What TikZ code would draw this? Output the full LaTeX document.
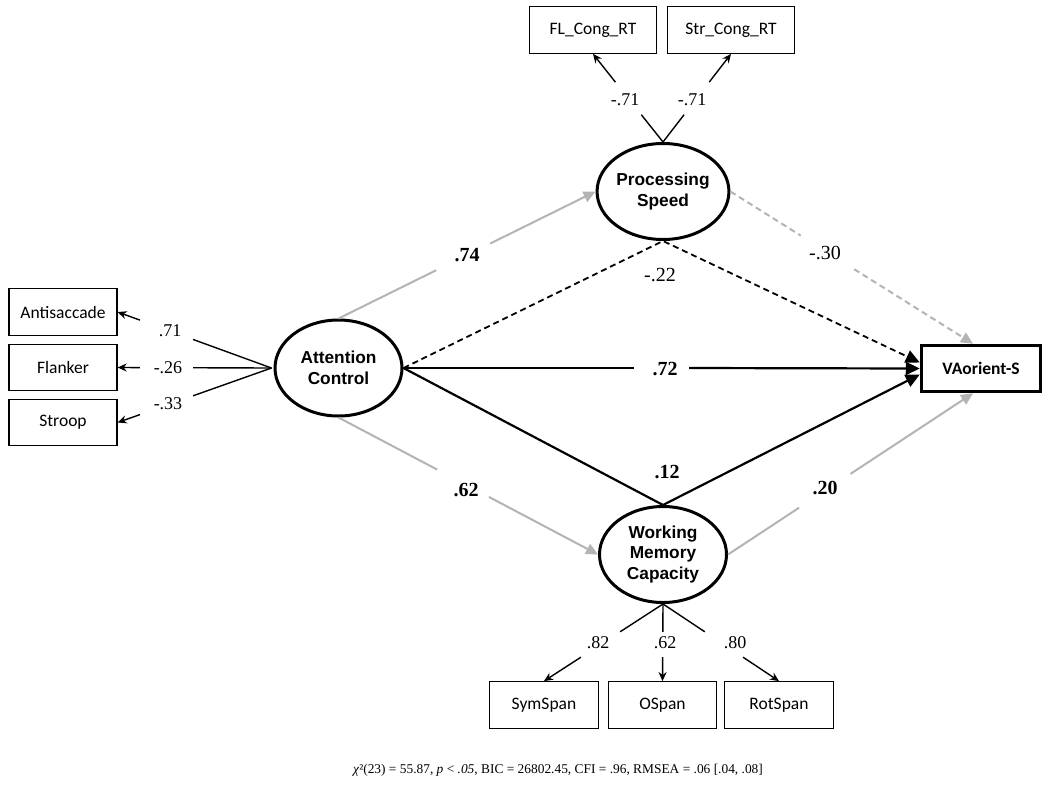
\documentclass[tikz,border=0pt]{standalone}
\usepackage{fontspec}
\setmainfont{Liberation Serif}
\newfontfamily\arialf{Liberation Sans}
\newfontfamily\calf{Carlito}
\usetikzlibrary{shapes.geometric,arrows.meta,calc}
\definecolor{arrgray}{RGB}{180,180,180}
\begin{document}
\begin{tikzpicture}[x=1pt,y=-1pt,
  lat/.style={ellipse, draw, line width=3pt, minimum width=127pt, minimum height=96pt, inner sep=0pt, align=center, font=\arialf\bfseries\fontsize{17.3}{20.5}\selectfont},
  obs/.style={draw, line width=1.3pt, inner sep=0pt, minimum height=46.5pt, font=\calf\fontsize{17.5}{20}\selectfont},
  dv/.style={draw, line width=3.5pt, inner sep=0pt, minimum width=119pt, minimum height=46pt, font=\calf\bfseries\fontsize{17.5}{20}\selectfont},
  ld/.style={line width=1.4pt, black},
  ldarr/.style={ld, -{Stealth[length=9pt,width=8pt]}},
  garr/.style={line width=2pt, arrgray, -{Triangle[length=12pt,width=11pt]}},
  gline/.style={line width=2pt, arrgray},
  barr/.style={line width=2.2pt, black, -{Triangle[length=14pt,width=13pt]}},
  bline/.style={line width=2.2pt, black},
  sl/.style={inner sep=0pt, font=\fontsize{18}{20}\selectfont},
  bl/.style={inner sep=0pt, font=\bfseries\fontsize{20}{22}\selectfont},
  rl/.style={inner sep=0pt, font=\fontsize{20}{22}\selectfont},
]
\useasboundingbox (0,0) rectangle (1050,804);
\fill[white] (0,0) rectangle (1050,804);

% latent variables
\node[lat] (AC) at (338.5,368) {Attention\\Control};
\node[lat] (PS) at (663,191.5) {Processing\\Speed};
\node[lat] (WM) at (663,554.5) {Working\\Memory\\Capacity};

% observed indicators
\node[obs, minimum width=108pt] (anti) at (63,312) {Antisaccade};
\node[obs, minimum width=108pt] (flank) at (63,367.5) {Flanker};
\node[obs, minimum width=108pt] (stroop) at (63,422.5) {Stroop};
\node[obs, minimum width=127pt] (fl) at (593,30) {FL\_Cong\_RT};
\node[obs, minimum width=127pt] (str) at (731,30) {Str\_Cong\_RT};
\node[obs, minimum width=109pt] (sym) at (544,705) {SymSpan};
\node[obs, minimum width=108pt] (ospan) at (662.5,705) {OSpan};
\node[obs, minimum width=109pt] (rot) at (779,705) {RotSpan};
\node[dv] (VA) at (981,368.5) {VAorient-S};

% attention control loadings
\coordinate (acw) at ([xshift=-2pt]AC.west);
\draw[ld] (acw) -- ($(acw)!0.51!(anti.east)$);
\draw[ldarr] ($(acw)!0.855!(anti.east)$) -- (anti.east);
\draw[ld] (acw) -- ($(acw)!0.51!(flank.east)$);
\draw[ldarr] ($(acw)!0.855!(flank.east)$) -- (flank.east);
\draw[ld] (acw) -- ($(acw)!0.51!(stroop.east)$);
\draw[ldarr] ($(acw)!0.855!(stroop.east)$) -- (stroop.east);
\node[sl] (l71) at (170,331) {.71};
\node[sl] (l26) at (168,368) {-.26};
\node[sl] (l33) at (168,404) {-.33};

% processing speed loadings
\draw[ld] (PS.north) -- ($(PS.north)!0.31!(fl.south)$);
\draw[ldarr] ($(PS.north)!0.68!(fl.south)$) -- (fl.south);
\draw[ld] (PS.north) -- ($(PS.north)!0.31!(str.south)$);
\draw[ldarr] ($(PS.north)!0.68!(str.south)$) -- (str.south);
\node[sl] (lfl) at (625,100) {-.71};
\node[sl] (lstr) at (692,100) {-.71};

% working memory loadings
\draw[ld] (WM.south) -- ($(WM.south)!0.36!(sym.north)$);
\draw[ldarr] ($(WM.south)!0.69!(sym.north)$) -- (sym.north);
\draw[ld] (WM.south) -- ($(WM.south)!0.36!(ospan.north)$);
\draw[ldarr] ($(WM.south)!0.69!(ospan.north)$) -- (ospan.north);
\draw[ld] (WM.south) -- ($(WM.south)!0.36!(rot.north)$);
\draw[ldarr] ($(WM.south)!0.69!(rot.north)$) -- (rot.north);
\node[sl] (l82) at (598,643) {.82};
\node[sl] (l62s) at (665,643) {.62};
\node[sl] (l80) at (735,643) {.80};

% gray structural paths
\draw[gline] (AC.north) -- ($(AC.north)!0.38!(PS.west)$);
\draw[garr] ($(AC.north)!0.59!(PS.west)$) -- (PS.west);
\node[bl] (l74) at (467,255) {.74};
\draw[gline] (AC.south) -- ($(AC.south)!0.38!(WM.west)$);
\draw[garr] ($(AC.south)!0.58!(WM.west)$) -- (WM.west);
\node[bl] (l62) at (466,490) {.62};
\coordinate (vaN) at ([xshift=-8pt]VA.north);
\coordinate (vaS) at ([xshift=-8pt]VA.south);
\draw[gline, dash pattern=on 6pt off 4pt] (PS.east) -- ($(PS.east)!0.29!(vaN)$);
\draw[garr, dash pattern=on 6pt off 4pt] ($(PS.east)!0.51!(vaN)$) -- (vaN);
\node[rl] (l30) at (825,253) {-.30};
\draw[gline] (WM.east) -- ($(WM.east)!0.29!(vaS)$);
\draw[garr] ($(WM.east)!0.50!(vaS)$) -- (vaS);
\node[bl] (l20) at (825,488) {.20};

% black paths
\draw[barr, line width=1.8pt, dash pattern=on 6pt off 4pt] (AC.east) -- (PS.south) -- ([yshift=6pt]VA.west);
\node[rl] (l22) at (660,275) {-.22};
\draw[barr] (AC.east) -- (WM.north) -- ([yshift=-6pt]VA.west);
\node[bl] (l12) at (667,472) {.12};
\draw[bline] (AC.east) -- (634,368);
\draw[barr] (689,368) -- (VA.west);
\node[bl] (l72) at (665,369) {.72};

% fit statistics
\node[font=\fontsize{13.4}{16}\selectfont] (cap) at (558,770) {\textit{χ}²(23) = 55.87, \textit{p} < \textit{.05}, BIC = 26802.45, CFI = .96, RMSEA = .06 [.04, .08]};
\end{tikzpicture}
\end{document}
